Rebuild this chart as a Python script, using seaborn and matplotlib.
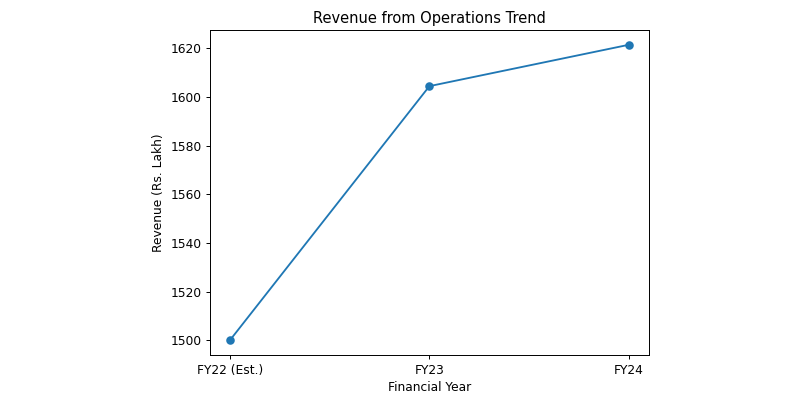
import pandas as pd
import seaborn as sns
import matplotlib.pyplot as plt

years = ["FY22 (Est.)", "FY23", "FY24"]
revenue = [1500.0, 1604.4, 1621.4]

df = pd.DataFrame({"Financial Year": years, "Revenue": revenue})

# the reference looks like a 100-dpi render shrunk to 800 px, so draw at 88 dpi
fig, ax = plt.subplots(figsize=(800 / 88, 400 / 88), dpi=88)
sns.lineplot(data=df, x="Financial Year", y="Revenue", marker="o", markersize=7,
             markeredgewidth=0, color="#1f77b4", sort=False, ax=ax)
ax.set_title("Revenue from Operations Trend")
ax.set_xlabel("Financial Year")
ax.set_ylabel("Revenue (Rs. Lakh)")

plt.subplots_adjust(left=0.2625, right=0.811, top=0.925, bottom=0.1125)
plt.savefig("out.png", dpi=88)
